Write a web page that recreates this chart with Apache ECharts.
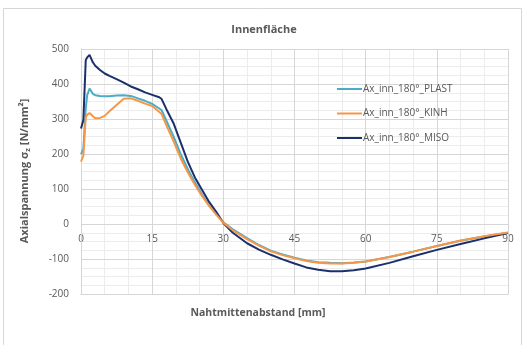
<!DOCTYPE html>
<html>
<head>
<meta charset="utf-8">
<script src="https://cdn.jsdelivr.net/npm/echarts@6/dist/echarts.min.js"></script>
<style>
  html, body { margin: 0; padding: 0; background: #ffffff; }
  #chart { width: 528px; height: 345px; }
</style>
</head>
<body>
<div id="chart"></div>
<script>
// Distance from weld centre [mm]
const abstand = [0, 0.5, 1.0, 1.3, 1.8, 2.5, 3.0, 4.0, 5.0, 6.0, 7.5, 9.0, 10.5, 12.0, 13.5, 15.0, 16.5, 17.0, 18.0, 19.5, 21.0, 22.5, 24.0, 25.5, 27.0, 28.5, 30.0, 32.0, 35.0, 37.5, 40.0, 42.5, 45.0, 47.5, 50.0, 52.5, 55.0, 57.5, 60.0, 65.0, 70.0, 75.0, 80.0, 85.0, 90.0];

// Axial stress on the inner surface [N/mm²]
const plast = [199, 215, 330, 368, 387, 372, 368, 366, 365, 365, 367, 368, 366, 359, 352, 343, 330, 325, 295, 250, 200, 157, 119, 84, 53, 28, 5, -15, -40, -60, -76, -87, -96, -104, -109, -111, -112, -110, -107, -94, -79, -63, -48, -36, -25];
const kinh  = [178, 195, 305, 312, 317, 308, 302, 303, 309, 322, 340, 358, 359, 352, 344, 337, 320, 314, 282, 237, 188, 148, 112, 80, 52, 27, 4, -18, -43, -62, -78, -89, -98, -106, -111, -113, -113, -111, -107, -94, -79, -63, -47, -35, -24];
const miso  = [273, 297, 468, 476, 483, 462, 452, 440, 430, 423, 414, 404, 393, 385, 376, 369, 362, 357, 328, 288, 233, 178, 133, 98, 63, 35, 3, -25, -55, -73, -88, -101, -113, -124, -131, -135, -135, -132, -127, -111, -92, -74, -57, -41, -26];

const seriesNames = ['Ax_inn_180°_PLAST', 'Ax_inn_180°_KINH', 'Ax_inn_180°_MISO'];
const seriesValues = [plast, kinh, miso];
const seriesColors = ['#4bacc6', '#f79646', '#1b2f6b'];

const xTicks = { min: 0, max: 90, step: 15, minorStep: 5 };
const yTicks = { min: -200, max: 500, step: 100, minorStep: 25 };

const textColor = '#595959';
const gridMajor = '#d6d6d6';
const gridMinor = '#ececec';
const frameColor = '#d6d6d6';
const fontFamily = '"Open Sans", "Noto Sans", sans-serif';

const gridBox = { left: 81, right: 20, top: 49, bottom: 51 };
const chartHeight = 345;
// The distance labels sit on the zero line of the stress axis
const plotHeight = chartHeight - gridBox.top - gridBox.bottom;
const zeroOffset = -plotHeight * (0 - yTicks.min) / (yTicks.max - yTicks.min);

const chart = echarts.init(document.getElementById('chart'), null, { renderer: 'canvas' });

const series = seriesNames.map((name, i) => ({
  name: name,
  type: 'line',
  xAxisIndex: 0,
  yAxisIndex: 0,
  data: abstand.map((x, k) => [x, seriesValues[i][k]]),
  symbol: 'none',
  smooth: false,
  lineStyle: { width: 2, color: seriesColors[i] },
  itemStyle: { color: seriesColors[i] },
  z: 3 + (i === 1 ? 1 : 0)
}));

// helper axes that only carry gridlines: their axis line coincides with the plot edge
function gridAxis(ticks, step, color, position) {
  return {
    type: 'value',
    position: position,
    min: ticks.min,
    max: ticks.max,
    interval: step,
    axisLine: { show: true, onZero: false, lineStyle: { color: gridMajor, width: 1 } },
    axisTick: { show: false },
    axisLabel: { show: false },
    splitLine: { show: true, lineStyle: { color: color, width: 1, type: 'solid' } }
  };
}

chart.setOption({
  animation: false,
  title: {
    text: 'Innenfläche',
    left: 'center',
    top: 19,
    textStyle: { fontFamily, fontSize: 11, fontWeight: 'bold', color: textColor }
  },
  legend: {
    orient: 'vertical',
    left: 332,
    top: 79,
    itemWidth: 25,
    itemHeight: 10,
    itemGap: 14.5,
    icon: 'path://M0,4 L25,4 L25,6 L0,6 Z',
    textStyle: { fontFamily, fontSize: 10, color: textColor, padding: [0, 0, 0, -4] },
    data: seriesNames
  },
  grid: Object.assign({ containLabel: false }, gridBox),
  xAxis: [
    Object.assign(gridAxis(xTicks, xTicks.step, gridMajor, 'bottom'), { z: 1 }),
    Object.assign(gridAxis(xTicks, xTicks.minorStep, gridMinor, 'bottom'), { z: 0 }),
    {
      // tick labels on the zero line
      type: 'value',
      position: 'bottom',
      offset: zeroOffset,
      min: xTicks.min,
      max: xTicks.max,
      interval: xTicks.step,
      axisLine: { show: false, onZero: false },
      axisTick: { show: false },
      axisLabel: { fontFamily, fontSize: 10, color: textColor, margin: 10 },
      splitLine: { show: false }
    }
  ],
  yAxis: [
    Object.assign(gridAxis(yTicks, yTicks.step, gridMajor, 'left'), {
      z: 1,
      axisLabel: { show: true, fontFamily, fontSize: 10, color: textColor, margin: 12 }
    }),
    Object.assign(gridAxis(yTicks, yTicks.minorStep, gridMinor, 'left'), { z: 0 })
  ],
  graphic: [
    {
      type: 'rect',
      shape: { x: 3.5, y: 8.5, width: 518, height: 345 },
      style: { fill: 'transparent', stroke: frameColor, lineWidth: 1 },
      silent: true,
      z: 10
    },
    {
      type: 'text',
      x: 258,
      y: 313,
      style: {
        text: 'Nahtmittenabstand [mm]',
        fontFamily, fontSize: 10.5, fontWeight: 'bold', fill: textColor,
        align: 'center', verticalAlign: 'middle'
      }
    },
    {
      type: 'text',
      x: 25,
      y: 171,
      rotation: Math.PI / 2,
      style: {
        text: '{a|Axialspannung σ}{s|z}{a| [N/mm²]}',
        align: 'center', verticalAlign: 'middle',
        rich: {
          a: { fontFamily, fontSize: 11, fontWeight: 'bold', fill: textColor },
          s: { fontFamily, fontSize: 7.5, fontWeight: 'bold', fill: textColor, verticalAlign: 'bottom', padding: [5, 0, 0, 0] }
        }
      }
    }
  ],
  series: series
});
</script>
</body>
</html>
